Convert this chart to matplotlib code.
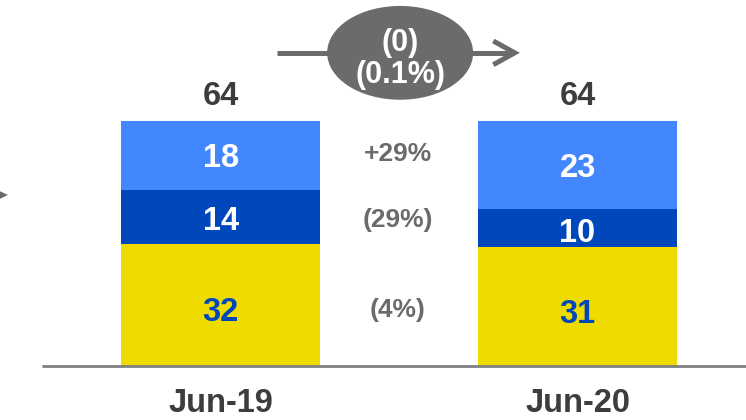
import matplotlib.pyplot as plt
from matplotlib.patches import Ellipse, Polygon

# datos
periods = ['Jun-19', 'Jun-20']
bottom_seg = [32, 31]   # amarillo
middle_seg = [14, 10]   # azul oscuro
top_seg = [18, 23]      # azul claro
totals = [64, 64]
change_labels = ['(4%)', '(29%)', '+29%']
total_change = ['(0)', '(0.1%)']

# colores
c_yellow = '#EEDB00'
c_dblue = '#0047BB'
c_lblue = '#4387FF'
c_dark = '#3d3d3d'
c_gray = '#6b6b6b'

plt.rcParams['font.family'] = ['Liberation Sans', 'DejaVu Sans']
plt.rcParams['font.weight'] = 'bold'

fig = plt.figure(figsize=(7.46, 4.2), dpi=100)
ax = fig.add_axes([0, 0, 1, 1])
ax.set_xlim(-0.618, 1.472)
ax.set_ylim(-14.1, 95.6)
ax.axis('off')


# texto centrado por la altura de las cifras (linea base desplazada)
def put(xp, yc, s, fs, color, z=6):
    ax.text(xp, yc - 0.13 * fs, s, ha='center', va='baseline', fontsize=fs,
            color=color, fontweight='bold', zorder=z)


x = [0, 1]
w = 0.557
mid = [b + m for b, m in zip(bottom_seg, middle_seg)]

ax.bar(x, bottom_seg, width=w, color=c_yellow, edgecolor='none')
ax.bar(x, middle_seg, width=w, bottom=bottom_seg, color=c_dblue, edgecolor='none')
ax.bar(x, top_seg, width=w, bottom=mid, color=c_lblue, edgecolor='none')

fs = 23.5
for i in range(2):
    put(x[i], bottom_seg[i] / 2 - 1.2, str(bottom_seg[i]), fs, c_dblue)
    put(x[i], bottom_seg[i] + middle_seg[i] / 2 - 0.5, str(middle_seg[i]), fs, 'white')
    put(x[i], mid[i] + top_seg[i] / 2, str(top_seg[i]), fs, 'white')
    put(x[i], totals[i] + 7.1, str(totals[i]), fs, c_dark)
    put(x[i], -8.9, periods[i], fs, c_dark)

# variaciones por segmento (entre las barras)
xm = 0.497
seg_centers = [bottom_seg[0] / 2 - 0.8, bottom_seg[0] + middle_seg[0] / 2 - 0.2,
               mid[0] + top_seg[0] / 2 + 1.0]
for lab, yc in zip(change_labels, seg_centers):
    put(xm, yc, lab, 19, c_gray)

# linea base
ax.plot([-0.5, 1.472], [0, 0], color='#808080', lw=2, solid_capstyle='butt', zorder=3)

# flecha con ovalo de variacion total
ya = 81.8
ax.plot([0.158, 0.822], [ya, ya], color=c_gray, lw=3.6, solid_capstyle='butt', zorder=4)
ax.plot([0.764, 0.824, 0.764], [ya + 3.1, ya, ya - 3.1], color=c_gray, lw=3.6,
        solid_joinstyle='miter', solid_capstyle='butt', zorder=4)
ax.add_patch(Ellipse((0.503, 81.8), 0.409, 24.5, facecolor=c_gray,
                     edgecolor='none', zorder=5))
put(0.503, 85.2, total_change[0], 22, 'white')
put(0.503, 76.8, total_change[1], 22, 'white')

# punta de flecha cortada a la izquierda
ax.add_patch(Polygon([[-0.64, 46.6], [-0.596, 44.7], [-0.64, 42.6]], closed=True,
                     facecolor=c_gray, edgecolor='none', clip_on=False))

fig.savefig('out.png', dpi=100)
